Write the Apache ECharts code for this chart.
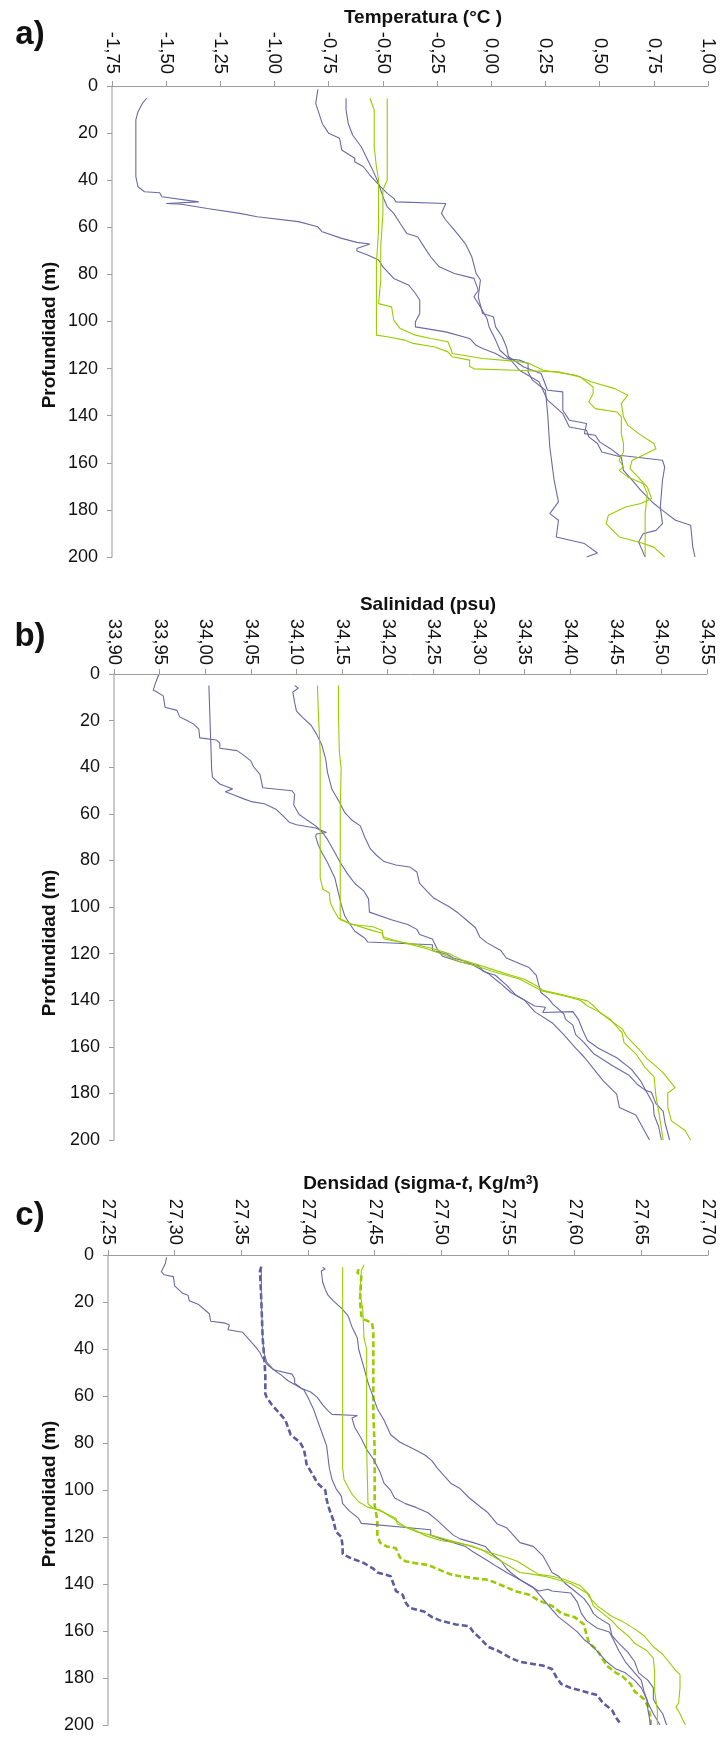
<!DOCTYPE html>
<html>
<head>
<meta charset="utf-8">
<title>Perfiles de temperatura, salinidad y densidad</title>
<script src="https://cdn.jsdelivr.net/npm/echarts@6/dist/echarts.min.js"></script>
<style>
  html, body { margin: 0; padding: 0; background: #ffffff; }
  #chart { width: 721px; height: 1744px; }
</style>
</head>
<body>
<div id="chart"></div>
<script>
// ---- Axis ticks ----
const depthTicks = [0, 20, 40, 60, 80, 100, 120, 140, 160, 180, 200];
const tempTicks = [-1.75, -1.5, -1.25, -1, -0.75, -0.5, -0.25, 0, 0.25, 0.5, 0.75, 1];
const salTicks = [33.9, 33.95, 34, 34.05, 34.1, 34.15, 34.2, 34.25, 34.3, 34.35, 34.4, 34.45, 34.5, 34.55];
const denTicks = [27.25, 27.3, 27.35, 27.4, 27.45, 27.5, 27.55, 27.6, 27.65, 27.7];

// ---- a) Temperature profiles [°C, depth m] ----
const tempBlue1 = [[-1.59,5.2],[-1.61,7.4],[-1.63,10.9],[-1.64,14.4],[-1.64,25.8],[-1.64,38.5],[-1.63,42.8],[-1.60,44.9],[-1.53,45.3],[-1.52,47],[-1.35,49.2],[-1.50,49.9],[-1.43,50.2],[-1.31,52],[-1.16,54.1],[-1.08,55.5],[-0.89,57.6],[-0.80,59.8],[-0.78,61.9],[-0.69,64.7],[-0.62,66.4],[-0.56,67.1],[-0.62,69],[-0.62,70.1],[-0.57,71.8],[-0.52,73.9],[-0.50,76.8],[-0.45,81.7],[-0.38,84.6],[-0.35,88.1],[-0.33,90.9],[-0.33,96.6],[-0.35,100.1],[-0.35,102.3],[-0.21,104.4],[-0.10,107.2],[-0.07,110.1],[-0.04,111.5],[0.02,113.6],[0.06,115.7],[0.13,116.4],[0.17,117.8],[0.17,121.4],[0.19,124.9],[0.25,129.2],[0.26,139.1],[0.27,153.3],[0.29,167.4],[0.31,176.6],[0.27,181.6],[0.31,184.4],[0.30,191.5],[0.43,194.3],[0.49,198.3],[0.44,200]];
const tempBlue2 = [[-0.80,1.4],[-0.81,7.4],[-0.78,15.9],[-0.75,20.1],[-0.70,22.2],[-0.69,27.2],[-0.63,30.7],[-0.63,32.2],[-0.59,34.3],[-0.56,37.8],[-0.54,39.9],[-0.51,42.8],[-0.48,45.6],[-0.45,47.7],[-0.44,49.2],[-0.21,49.9],[-0.23,54.1],[-0.21,56.9],[-0.17,61.2],[-0.12,66.9],[-0.09,72.5],[-0.07,79.6],[-0.05,82.4],[-0.06,89.5],[-0.04,96.6],[0.01,98],[0.02,102.3],[0.05,106.5],[0.07,110.8],[0.08,115],[0.15,119.3],[0.23,122.1],[0.26,129.2],[0.33,129.9],[0.33,137.7],[0.36,141.9],[0.44,143.3],[0.43,147.6],[0.48,148.3],[0.50,151.1],[0.55,154],[0.59,156.8],[0.79,158.9],[0.80,161.8],[0.79,167.4],[0.78,178.8],[0.79,185.8],[0.76,188.7],[0.70,190.1],[0.68,193.6],[0.69,195.8],[0.71,200]];
const tempBlue3 = [[-0.67,5.2],[-0.67,10.2],[-0.66,15.9],[-0.64,20.8],[-0.60,25.8],[-0.57,31.4],[-0.54,37.1],[-0.52,41.4],[-0.50,47],[-0.48,51.3],[-0.45,54.1],[-0.42,58.4],[-0.39,62.6],[-0.34,64],[-0.31,68.3],[-0.28,72.5],[-0.24,76.8],[-0.17,79.6],[-0.08,81.7],[-0.06,86.7],[-0.08,89.5],[-0.05,93.8],[-0.02,98.7],[-0.01,102.3],[0.02,107.9],[0.04,112.2],[0.09,116.4],[0.13,120.7],[0.22,125.6],[0.26,133.4],[0.33,139.1],[0.36,144.8],[0.44,146.2],[0.45,149],[0.49,151.8],[0.51,155.4],[0.60,157.5],[0.61,163.2],[0.65,167.4],[0.69,171.7],[0.75,177.3],[0.79,180.2],[0.85,184.4],[0.92,186.5],[0.93,195.8],[0.94,200]];
const tempGreen1 = [[-0.56,5.2],[-0.54,10.2],[-0.54,15.9],[-0.54,25.8],[-0.53,34.3],[-0.52,39.9],[-0.52,47],[-0.52,61.2],[-0.53,75.4],[-0.53,89.5],[-0.53,105.8],[-0.48,106.5],[-0.40,107.9],[-0.36,109.3],[-0.26,110.8],[-0.20,112.9],[-0.18,115],[-0.10,116.4],[-0.10,119],[-0.08,120.1],[0.11,120.7],[0.31,121.4],[0.41,123.5],[0.47,127.8],[0.47,130.6],[0.45,134.1],[0.48,137],[0.58,138.4],[0.60,140.5],[0.60,147.6],[0.61,151.8],[0.61,155.4],[0.59,158.9],[0.61,161.8],[0.59,163.2],[0.63,166],[0.70,168.8],[0.72,173.1],[0.71,181.6],[0.71,200]];
const tempGreen2 = [[-0.48,5.2],[-0.48,15.9],[-0.48,32.9],[-0.48,39.9],[-0.50,44.2],[-0.50,54.1],[-0.51,68.3],[-0.51,82.4],[-0.52,92.4],[-0.46,93.8],[-0.45,99.4],[-0.42,103],[-0.35,105.8],[-0.28,107.2],[-0.20,108.6],[-0.19,110.8],[-0.18,113.6],[-0.04,115.7],[0.09,116.7],[0.17,117.6],[0.24,120.7],[0.39,122.8],[0.46,125.6],[0.57,128.5],[0.63,131.3],[0.60,134.8],[0.61,140.5],[0.63,144],[0.68,147.6],[0.75,151.8],[0.76,154],[0.70,156.8],[0.65,158.9],[0.64,162.5],[0.67,165.3],[0.72,170.3],[0.74,175.2],[0.69,177.3],[0.62,178.8],[0.54,182.3],[0.53,185.8],[0.59,191.5],[0.68,193.6],[0.75,195.8],[0.80,200]];

// ---- b) Salinity profiles [psu, depth m] ----
const salBlue1 = [[33.949,0.3],[33.946,3.3],[33.943,6.9],[33.947,7.7],[33.954,9.4],[33.956,14.3],[33.969,15.6],[33.972,18.4],[33.979,19.7],[33.987,21.4],[33.993,23.7],[33.994,27.4],[34.012,28.3],[34.016,29.6],[34.016,31.9],[34.035,32.9],[34.042,34.8],[34.050,37.3],[34.053,39.8],[34.060,43.1],[34.063,48.8],[34.095,50.1],[34.098,51.6],[34.097,56.2],[34.103,60.3],[34.112,62.8],[34.121,65.2],[34.128,67.7],[34.134,71],[34.141,75.9],[34.148,80.9],[34.156,85.8],[34.164,89.9],[34.174,93.2],[34.179,96.5],[34.180,102.2],[34.204,105.5],[34.222,107.5],[34.232,109.6],[34.235,111.8],[34.249,113.7],[34.254,117.8],[34.260,121.1],[34.280,123.6],[34.300,125.2],[34.305,127.7],[34.318,129.3],[34.330,133.4],[34.340,137.6],[34.361,142.5],[34.373,143],[34.370,145.3],[34.403,144.9],[34.409,148.2],[34.414,153.1],[34.419,157.3],[34.431,160.6],[34.451,164.7],[34.467,169.6],[34.477,174.5],[34.484,179.5],[34.491,184.4],[34.492,189.3],[34.497,194.2],[34.500,200]];
const salBlue2 = [[34.004,4.9],[34.005,16.8],[34.006,28.3],[34.007,40.6],[34.008,44.4],[34.016,47.2],[34.023,48.3],[34.030,49.3],[34.022,50.5],[34.033,52.1],[34.043,53.7],[34.052,54.9],[34.065,55.7],[34.078,58.2],[34.085,60.8],[34.092,63.6],[34.100,64.7],[34.121,66.1],[34.133,68],[34.122,68.7],[34.121,69.7],[34.124,73.5],[34.128,76.7],[34.134,80.9],[34.142,87.4],[34.146,94],[34.149,98.9],[34.153,103.9],[34.158,107.1],[34.164,110.4],[34.175,113.4],[34.178,115],[34.249,116.2],[34.249,118.7],[34.265,120.3],[34.272,121.9],[34.285,123.3],[34.295,125.2],[34.310,128.5],[34.323,132.6],[34.335,136.7],[34.350,140],[34.361,144.9],[34.381,149.9],[34.393,154.8],[34.406,160.6],[34.416,164.7],[34.426,169.6],[34.436,174.5],[34.451,180.3],[34.454,186],[34.472,189.3],[34.487,200]];
const salBlue3 = [[34.098,4.9],[34.102,6.1],[34.096,7.7],[34.098,12.2],[34.100,15.9],[34.107,18.7],[34.116,22],[34.122,25.8],[34.128,30.7],[34.132,36.5],[34.134,42.2],[34.139,49.6],[34.147,54.9],[34.153,59.5],[34.161,62.8],[34.170,65.2],[34.175,70.2],[34.181,75.1],[34.188,77.9],[34.196,80.5],[34.209,82],[34.224,82.8],[34.232,85],[34.235,89.9],[34.243,93.2],[34.250,96],[34.259,98.1],[34.267,99.8],[34.277,102.5],[34.287,105.8],[34.296,108.8],[34.301,112.9],[34.309,115.4],[34.324,118.7],[34.330,121.9],[34.345,124.4],[34.355,126],[34.363,129.3],[34.365,132.6],[34.368,136.7],[34.376,139.2],[34.381,141.7],[34.393,145.8],[34.395,148.2],[34.403,150.7],[34.406,154.8],[34.415,158.1],[34.426,163],[34.446,168],[34.464,172.1],[34.474,176.2],[34.482,178.6],[34.489,179.5],[34.494,184.4],[34.502,187.7],[34.504,192.6],[34.509,200]];
const salGreen1 = [[34.123,4.9],[34.124,16.8],[34.126,33.2],[34.126,49.6],[34.126,66.1],[34.126,87.4],[34.128,90.7],[34.129,92.4],[34.136,94],[34.137,98.1],[34.141,101.4],[34.146,104.7],[34.159,107.1],[34.179,109.6],[34.194,111.3],[34.196,113.7],[34.219,115.4],[34.242,117.8],[34.260,120.3],[34.280,123.6],[34.300,125.6],[34.315,127.7],[34.330,129.3],[34.345,131],[34.361,134.3],[34.368,135.9],[34.396,138.4],[34.411,140],[34.419,142.5],[34.431,144.9],[34.444,148.2],[34.457,154],[34.459,158.1],[34.472,163],[34.482,168.8],[34.492,172.9],[34.494,181.1],[34.497,187.7],[34.502,200]];
const salGreen2 = [[34.146,4.9],[34.146,16.8],[34.147,33.2],[34.149,40.6],[34.148,57.8],[34.148,82.5],[34.148,105.5],[34.161,107.5],[34.184,108.5],[34.194,110.1],[34.195,112.9],[34.214,115],[34.232,116.2],[34.249,117.8],[34.267,120],[34.282,122.8],[34.300,124.9],[34.318,127.2],[34.335,129.3],[34.350,131],[34.363,133.8],[34.371,135.9],[34.386,137.1],[34.403,138.7],[34.419,140.3],[34.426,142.5],[34.433,145.3],[34.444,148.6],[34.457,152.3],[34.462,155.6],[34.469,158.4],[34.477,161.7],[34.484,165],[34.494,168.3],[34.502,171.2],[34.515,177.5],[34.507,179.8],[34.507,186],[34.511,191.8],[34.526,195.9],[34.532,200]];

// ---- c) Density profiles [sigma-t, depth m] ----
const denBlue1 = [[27.294,1],[27.293,3.6],[27.290,7.1],[27.292,8.4],[27.299,9.2],[27.300,13.1],[27.306,16.3],[27.310,17.1],[27.311,19.5],[27.318,21.1],[27.326,25],[27.327,28.2],[27.338,29],[27.341,29.8],[27.340,31.8],[27.351,32.9],[27.356,36.1],[27.361,39.3],[27.364,41.6],[27.366,44],[27.369,46.4],[27.374,48.8],[27.388,50.7],[27.390,52.7],[27.390,54.6],[27.395,56.7],[27.402,58.3],[27.407,60.6],[27.411,63.8],[27.415,66.2],[27.418,67.8],[27.437,68.3],[27.433,69.4],[27.435,73.3],[27.440,78.1],[27.444,82.8],[27.449,86.8],[27.454,92.3],[27.457,97.1],[27.462,100.2],[27.465,103.4],[27.473,105.8],[27.481,107.4],[27.490,109.7],[27.497,112.9],[27.503,116.1],[27.509,119.2],[27.514,120.8],[27.524,122.4],[27.533,124],[27.538,127.2],[27.545,130.3],[27.549,133.5],[27.552,135.1],[27.559,138.2],[27.566,140.6],[27.573,143],[27.580,142.2],[27.583,143],[27.597,143.8],[27.602,147.7],[27.605,152.5],[27.609,155.7],[27.617,158.8],[27.626,160.4],[27.629,163.6],[27.633,168.3],[27.638,173.1],[27.645,177.8],[27.650,181],[27.652,185.7],[27.655,190.5],[27.659,195.2],[27.664,200]];
const denBlue2 = [[27.365,5.2],[27.365,19.5],[27.366,35.3],[27.367,41.6],[27.369,45.6],[27.373,48],[27.376,49.6],[27.380,51.1],[27.385,53.5],[27.390,55.1],[27.397,57.5],[27.400,60.6],[27.404,65.4],[27.407,70.2],[27.411,76.5],[27.414,81.2],[27.415,86],[27.416,90.7],[27.418,95.5],[27.421,99.4],[27.425,102.6],[27.426,105.8],[27.431,108.9],[27.438,112.1],[27.440,114.2],[27.492,116.9],[27.492,119.2],[27.500,120.8],[27.509,122.4],[27.518,124],[27.524,126.4],[27.533,129.5],[27.542,132.7],[27.549,135.1],[27.559,138.2],[27.569,141.4],[27.576,146.2],[27.583,150.9],[27.588,154.1],[27.595,157.2],[27.602,160.4],[27.607,163.6],[27.614,166.7],[27.619,169.9],[27.624,173.1],[27.631,176.2],[27.638,177.8],[27.645,181],[27.650,184.2],[27.654,188.9],[27.655,193.7],[27.657,200]];
const denBlue3 = [[27.411,5.2],[27.413,6],[27.410,6.8],[27.411,11.6],[27.413,14.7],[27.415,17.1],[27.419,19.5],[27.425,22.6],[27.430,25.8],[27.433,30.6],[27.437,35.3],[27.438,40.1],[27.442,48],[27.445,54.3],[27.449,60.6],[27.452,65.4],[27.457,70.2],[27.462,76.5],[27.469,79.7],[27.480,82.8],[27.488,85.2],[27.493,87.6],[27.497,90.7],[27.502,93.9],[27.507,97.1],[27.514,99.4],[27.521,103.4],[27.528,106.6],[27.535,109.7],[27.542,114.5],[27.549,116.1],[27.554,119.2],[27.559,122.4],[27.569,124],[27.576,127.9],[27.580,131.9],[27.583,135.1],[27.588,136.7],[27.593,139.8],[27.600,143],[27.607,146.2],[27.611,149.3],[27.614,152.5],[27.617,154.1],[27.626,157.2],[27.628,162],[27.633,165.2],[27.640,169.1],[27.645,173.1],[27.648,177.8],[27.655,181],[27.659,184.2],[27.659,188.9],[27.662,192.1],[27.666,195.2],[27.669,200]];
const denGreen1 = [[27.426,5.2],[27.426,35.3],[27.426,67],[27.426,90.7],[27.427,95.5],[27.430,98.7],[27.433,101.8],[27.438,105],[27.445,107.4],[27.454,108.5],[27.459,110.1],[27.466,112.1],[27.467,114.5],[27.480,116.9],[27.487,119.2],[27.500,121.6],[27.511,122.4],[27.524,124],[27.535,126.4],[27.549,128.7],[27.557,130.3],[27.566,133.5],[27.573,135.9],[27.583,136.7],[27.593,138.2],[27.604,140.6],[27.611,144.6],[27.614,149.3],[27.621,152.5],[27.628,155.7],[27.633,158.8],[27.640,162],[27.645,165.2],[27.654,168.3],[27.659,171.5],[27.660,177.8],[27.660,185.7],[27.662,193.7],[27.662,200]];
const denGreen2 = [[27.442,4.1],[27.440,6.8],[27.439,16.3],[27.441,22.6],[27.442,35.3],[27.444,40.1],[27.444,59.1],[27.444,82.8],[27.445,105.8],[27.449,107.8],[27.456,109.4],[27.464,112.1],[27.473,115.8],[27.481,117.7],[27.492,119.2],[27.504,121.1],[27.518,123.2],[27.531,125.6],[27.545,130.3],[27.559,135.1],[27.569,135.9],[27.580,137],[27.597,139.8],[27.609,143.8],[27.612,146.2],[27.617,149.3],[27.628,153.8],[27.636,156],[27.645,159.1],[27.652,162],[27.659,166.7],[27.666,169.9],[27.676,177],[27.679,178.6],[27.679,184.2],[27.678,190.5],[27.676,192.4],[27.679,195.2],[27.683,200]];
const denBlueDash = [[27.365,4.9],[27.364,6.8],[27.365,19.5],[27.366,35.3],[27.367,42.4],[27.368,51.1],[27.368,59.1],[27.369,60.6],[27.373,63.8],[27.378,67],[27.383,70.2],[27.387,76.5],[27.394,79.7],[27.397,82.8],[27.399,89.2],[27.404,93.9],[27.407,97.1],[27.413,100.2],[27.414,104.2],[27.416,108.2],[27.419,112.9],[27.421,117.7],[27.425,120],[27.426,124],[27.426,127.2],[27.431,128.7],[27.442,131.1],[27.449,133.5],[27.452,135.1],[27.462,136.7],[27.464,139.8],[27.466,143],[27.471,144.6],[27.473,147.7],[27.476,150.1],[27.487,151.7],[27.493,154.1],[27.500,155.7],[27.511,157.2],[27.521,158],[27.524,160.4],[27.530,163.6],[27.535,166.7],[27.542,168.3],[27.552,171.5],[27.559,173.1],[27.576,174.7],[27.583,176.2],[27.586,179.4],[27.590,182.6],[27.597,184.2],[27.607,185.7],[27.617,187.3],[27.621,190.5],[27.628,193.7],[27.631,196.8],[27.635,200]];
const denGreenDash = [[27.438,6],[27.437,7.6],[27.440,8.4],[27.439,19.5],[27.440,25.8],[27.442,27.4],[27.448,29],[27.449,32.1],[27.449,51.1],[27.449,67],[27.450,82.8],[27.450,98.7],[27.450,106.6],[27.452,112.9],[27.452,119.2],[27.454,122.4],[27.459,124],[27.466,124.8],[27.469,128.7],[27.473,130.3],[27.480,131.1],[27.490,131.9],[27.500,134.3],[27.507,135.9],[27.514,136.7],[27.524,137.5],[27.535,138.2],[27.542,139.8],[27.549,141.4],[27.555,143],[27.566,144.6],[27.573,147],[27.583,149.3],[27.590,152.5],[27.600,154.1],[27.607,157.2],[27.609,162],[27.611,165.2],[27.617,168.3],[27.624,174.7],[27.631,177.8],[27.636,179.4],[27.642,182.6],[27.645,185.7],[27.652,188.9],[27.655,192.1],[27.657,196.8],[27.657,200]];

// ---- Styling ----
const FONT = '"Liberation Sans", Arial, Helvetica, sans-serif';
const BLUE = '#6a6aa6';
const GREEN = '#99cc00';
const TEXT = '#111111';

const panels = [
  { grid: { left: 112, top: 86, width: 596, height: 471 }, ticks: tempTicks, labelGap: 12 },
  { grid: { left: 114, top: 674, width: 593, height: 466 }, ticks: salTicks, labelGap: 9 },
  { grid: { left: 108, top: 1255, width: 600, height: 470 }, ticks: denTicks, labelGap: 10 }
];

function commaLabel(v) {
  return v.toFixed(2).replace('.', ',');
}

const grids = panels.map(p => Object.assign({ containLabel: false }, p.grid));

const xAxes = panels.map((p, i) => ({
  gridIndex: i,
  type: 'value',
  position: 'top',
  min: p.ticks[0],
  max: p.ticks[p.ticks.length - 1],
  interval: Math.round((p.ticks[1] - p.ticks[0]) * 1000) / 1000,
  axisLine: { show: true, onZero: false, lineStyle: { color: '#9c9c9c', width: 1 } },
  axisTick: { show: true, inside: false, length: 5, lineStyle: { color: '#9c9c9c', width: 1 } },
  axisLabel: {
    rotate: 90, margin: p.labelGap, fontSize: 18.5, color: TEXT, fontFamily: FONT,
    showMinLabel: true, showMaxLabel: true, formatter: commaLabel
  },
  splitLine: { show: false }
}));

const yAxes = panels.map((p, i) => ({
  gridIndex: i,
  type: 'value',
  inverse: true,
  min: depthTicks[0],
  max: depthTicks[depthTicks.length - 1],
  interval: depthTicks[1] - depthTicks[0],
  axisLine: { show: true, onZero: false, lineStyle: { color: '#b8b8b8', width: 1.5 } },
  axisTick: { show: true, inside: false, length: 5, lineStyle: { color: '#9c9c9c', width: 1 } },
  axisLabel: { fontSize: 18, color: TEXT, fontFamily: FONT, margin: 14 },
  splitLine: { show: false }
}));

function profile(data, panel, color, dashed) {
  return {
    type: 'line',
    xAxisIndex: panel,
    yAxisIndex: panel,
    data: data,
    showSymbol: false,
    symbol: 'none',
    silent: true,
    animation: false,
    lineStyle: dashed
      ? { color: color, width: 2.6, type: [6, 3] }
      : { color: color, width: 1.1 }
  };
}

const series = [
  profile(tempBlue1, 0, BLUE), profile(tempBlue2, 0, BLUE), profile(tempBlue3, 0, BLUE),
  profile(tempGreen1, 0, GREEN), profile(tempGreen2, 0, GREEN),
  profile(salBlue1, 1, BLUE), profile(salBlue2, 1, BLUE), profile(salBlue3, 1, BLUE),
  profile(salGreen1, 1, GREEN), profile(salGreen2, 1, GREEN),
  profile(denBlueDash, 2, '#5c5c9c', true), profile(denGreenDash, 2, GREEN, true),
  profile(denBlue1, 2, BLUE), profile(denBlue2, 2, BLUE), profile(denBlue3, 2, BLUE),
  profile(denGreen1, 2, GREEN), profile(denGreen2, 2, GREEN)
];

function label(text, x, y, size, extra) {
  return {
    type: 'text', x: x, y: y, silent: true,
    style: Object.assign({
      text: text, fill: TEXT, fontFamily: FONT, fontSize: size, fontWeight: 'bold',
      align: 'center', verticalAlign: 'middle',
      textAlign: 'center', textVerticalAlign: 'middle'
    }, extra || {})
  };
}

function depthName(y) {
  const t = label('Profundidad (m)', 50, y, 19);
  t.rotation = Math.PI / 2;
  return t;
}

const graphics = [
  label('Temperatura (°C )', 423, 18, 19),
  label('Salinidad (psu)', 428, 605, 19),
  label('Densidad (sigma-{i|t}, Kg/m{sup|3})', 421, 1184, 19, {
    rich: {
      i: { fontStyle: 'italic', fontWeight: 'bold', fontSize: 19, fontFamily: FONT, fill: TEXT },
      sup: { fontSize: 12, fontWeight: 'bold', fontFamily: FONT, fill: TEXT, verticalAlign: 'top' }
    }
  }),
  label('a)', 30, 35, 33),
  label('b)', 30, 637, 33),
  label('c)', 30, 1216, 33),
  depthName(335),
  depthName(943),
  depthName(1494)
];

const chart = echarts.init(document.getElementById('chart'), null, { renderer: 'canvas' });
chart.setOption({
  backgroundColor: '#ffffff',
  animation: false,
  grid: grids,
  xAxis: xAxes,
  yAxis: yAxes,
  series: series,
  graphic: { elements: graphics }
});
</script>
</body>
</html>
